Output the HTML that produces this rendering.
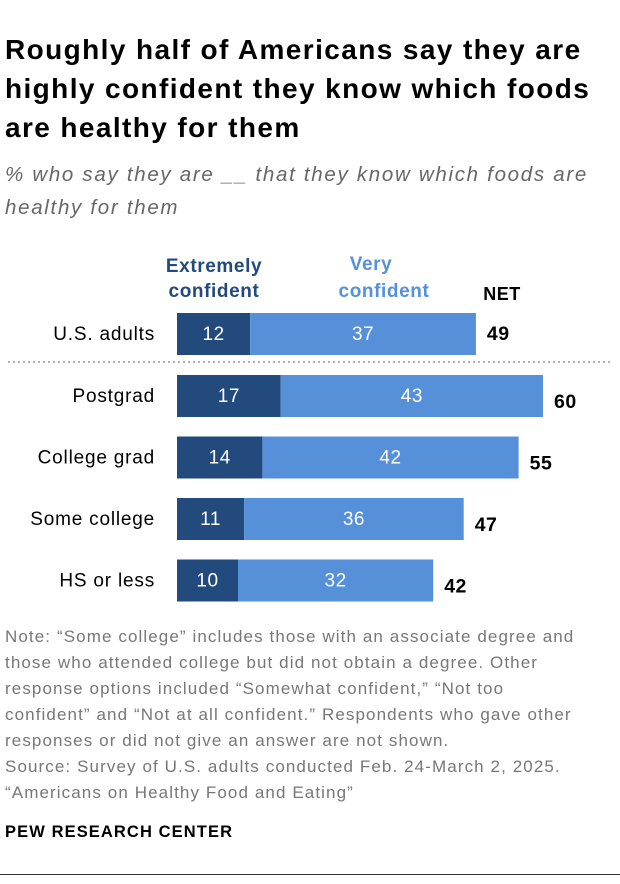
<!DOCTYPE html>
<html><head><meta charset="utf-8"><style>
body{margin:0;width:620px;height:884px;background:#fff;font-family:"Liberation Sans",sans-serif;position:relative;overflow:hidden}
.t{position:absolute;left:5px;top:30px;font-size:28px;font-weight:bold;line-height:39px;color:#000;width:615px;letter-spacing:1.4px;white-space:nowrap}
.s{position:absolute;left:5px;top:158px;font-size:20.5px;font-style:italic;line-height:33px;color:#666;letter-spacing:1.7px;white-space:nowrap}
.n{position:absolute;left:5px;top:624px;font-size:17px;line-height:26px;color:#777;width:615px;letter-spacing:1.1px;white-space:nowrap}
.p{position:absolute;left:5px;top:823px;font-size:16.5px;font-weight:bold;color:#000;letter-spacing:1.1px}
.rule{position:absolute;left:0;top:874px;width:620px;height:1px;background:#333}
</style></head><body>
<div class="t">Roughly half of Americans say they are<br>highly confident they know which foods<br>are healthy for them</div>
<div class="s">% who say they are __ that they know which foods are<br>healthy for them</div>
<svg id="c" width="620" height="620" style="position:absolute;left:0;top:0"></svg>
<div class="n">Note: “Some college” includes those with an associate degree and<br>those who attended college but did not obtain a degree. Other<br>response options included “Somewhat confident,” “Not too<br>confident” and “Not at all confident.” Respondents who gave other<br>responses or did not give an answer are not shown.<br>Source: Survey of U.S. adults conducted Feb. 24-March 2, 2025.<br>“Americans on Healthy Food and Eating”</div>
<div class="p">PEW RESEARCH CENTER</div>
<div class="rule"></div>
<script>
const categories=["U.S. adults","Postgrad","College grad","Some college","HS or less"];
const extremely=[12,17,14,11,10];
const very=[37,43,42,36,32];
const net=[49,60,55,47,42];
const svg=document.getElementById('c');const NS='http://www.w3.org/2000/svg';
const x0=177,k=6.1;const X=v=>x0+v*k;
const rowY=i=>i===0?313:375+(i-1)*61.5;
function mk(t,a,txt){const e=document.createElementNS(NS,t);for(const q in a)e.setAttribute(q,a[q]);if(txt!=null)e.textContent=txt;svg.appendChild(e);return e;}
function lbl(x,y,s,fill,anchor,w,size,ls){return mk('text',{x:x,y:y,fill:fill,'text-anchor':anchor,'font-size':size||18,'font-weight':w||'normal','letter-spacing':ls||0,'font-family':'Liberation Sans, sans-serif'},s);}
let h=lbl(214,272,'Extremely','#234a7d','middle','bold',19,0.6);
lbl(214,297,'confident','#234a7d','middle','bold',19,0.6);
h=lbl(371,270,'Very','#5590d9','middle','bold',19,0.6);
lbl(384,297,'confident','#5590d9','middle','bold',19,0.6);
h=lbl(502,300,'NET','#000','middle','bold',18,0.5);
h=mk('line',{x1:8,x2:612,y1:362,y2:362,stroke:'#999','stroke-width':1.5,'stroke-dasharray':'2,3'});

categories.forEach((c,i)=>{const y=rowY(i),bh=42,cy=y+bh/2+6;
 let t=lbl(155,cy,c,'#000','end','normal',19,0.8);
 let r=mk('rect',{x:X(0),y:y,width:X(extremely[i])-X(0),height:bh,fill:'#234a7d'});
 
 r=mk('rect',{x:X(extremely[i]),y:y,width:X(extremely[i]+very[i])-X(extremely[i]),height:bh,fill:'#5590d9'});
 
 lbl((X(0)+X(extremely[i]))/2,cy,extremely[i],'#fff','middle','normal',19,0.5);
 lbl((X(extremely[i])+X(extremely[i]+very[i]))/2,cy,very[i],'#fff','middle','normal',19,0.5);
 t=lbl(X(extremely[i]+very[i])+11,cy+(i===0?0:6),net[i],'#000','start','bold',19.5,0.5);
 
});
</script>
</body></html>
